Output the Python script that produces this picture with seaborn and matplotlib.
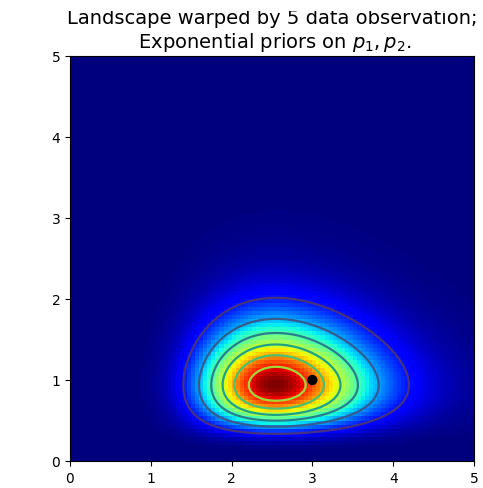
import numpy as np
import matplotlib
matplotlib.use("Agg")
import matplotlib.pyplot as plt
from matplotlib.transforms import Bbox, TransformedBbox
import seaborn as sns
from math import factorial

plt.rcParams["font.family"] = ["DejaVu Sans"]

# Observed counts for the two Poisson parameters (5 observations each)
obs_p1 = [1, 0, 2, 1, 1]      # vertical axis parameter, true value 1
obs_p2 = [2, 4, 3, 1, 3]      # horizontal axis parameter, true value 3
true_p2, true_p1 = [3], [1]
prior_scale_p1 = 3.0
prior_scale_p2 = 10.0
n_obs = len(obs_p1)
tick_values = [0, 1, 2, 3, 4, 5]

grid = np.linspace(0.01, 5, 100)


def poisson_likelihood(obs, lam):
    out = np.ones_like(lam)
    for k in obs:
        out *= lam ** k * np.exp(-lam) / factorial(k)
    return out


def expon_pdf(lam, scale):
    return np.exp(-lam / scale) / scale


lik_p1 = poisson_likelihood(obs_p1, grid)
lik_p2 = poisson_likelihood(obs_p2, grid)
prior_p1 = expon_pdf(grid, prior_scale_p1)
prior_p2 = expon_pdf(grid, prior_scale_p2)

# rows -> p1 (vertical), columns -> p2 (horizontal)
landscape = np.outer(prior_p1 * lik_p1, prior_p2 * lik_p2)

fig = plt.figure(figsize=(4.83, 4.89), dpi=100)
ax = fig.add_axes([70 / 483, 27 / 489, 404 / 483, 405 / 489])

ax.contour(grid, grid, landscape, cmap="viridis", linewidths=1.6)
ax.imshow(landscape, interpolation="none", origin="lower", cmap="jet",
          extent=(0, 5, 0, 5), aspect="auto")
sns.scatterplot(x=true_p2, y=true_p1, color="k", s=55, edgecolor="none",
                ax=ax, legend=False, zorder=5)

ax.set_xlim(0, 5)
ax.set_ylim(0, 5)
ax.set_xticks(tick_values)
ax.set_yticks(tick_values)
ax.tick_params(labelsize=10)

title = ax.set_title(
    "Landscape warped by %d data observation;\n Exponential priors on $p_1, p_2$." % n_obs,
    fontsize=14, pad=6.5)
# the first title line runs past the top edge of the canvas
title.set_clip_box(TransformedBbox(Bbox([[0, 0], [1, 477 / 489]]), fig.transFigure))
title.set_clip_on(True)

fig.savefig("out.png", dpi=100)
